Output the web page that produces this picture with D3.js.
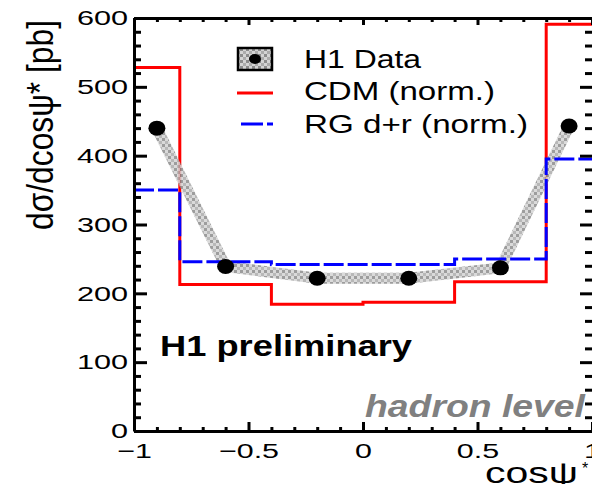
<!DOCTYPE html>
<html>
<head>
<meta charset="utf-8">
<script src="https://cdn.jsdelivr.net/npm/d3@7"></script>
<style>
body { margin: 0; background: #fff; }
svg { display: block; font-family: "Liberation Sans", Arial, sans-serif; }
</style>
</head>
<body>
<svg id="chart" width="592" height="484"></svg>
<script>
// histogram bin edges for the model curves
const binEdges = [-1, -0.8, -0.4, 0, 0.4, 0.8, 1];
const cdmValues = [528, 213, 184, 187, 217, 591];
const rgValues = [350, 246, 242, 242, 250, 395];

// H1 data points
const dataX = [-0.9, -0.6, -0.2, 0.2, 0.6, 0.9];
const dataY = [440, 239, 222, 222, 237, 443];

// ticks
const xMajor = [-1, -0.5, 0, 0.5, 1];
const xTickLabels = ['\u22121', '\u22120.5', '0', '0.5', '1'];
const xMinor = d3.range(-9, 10).map(i => i / 10).filter(v => Math.abs(v * 2 - Math.round(v * 2)) > 1e-6);
const yMajor = [0, 100, 200, 300, 400, 500, 600];
const yMinor = d3.range(20, 600, 20).filter(v => v % 100 !== 0);

const legendLabels = ['H1 Data', 'CDM (norm.)', 'RG d+r (norm.)'];

const svg = d3.select('#chart');
const x = d3.scaleLinear().domain([-1, 1]).range([134, 592]);
const y = d3.scaleLinear().domain([0, 600]).range([431, 18]);

// checkered grey fill for the data band
const pat = svg.append('defs').append('pattern')
    .attr('id', 'checker')
    .attr('patternUnits', 'userSpaceOnUse')
    .attr('width', 6)
    .attr('height', 6);
pat.append('rect').attr('width', 6).attr('height', 6).attr('fill', '#d4d4d4');
pat.append('rect').attr('width', 3).attr('height', 3).attr('fill', '#8c8c8c');
pat.append('rect').attr('x', 3).attr('y', 3).attr('width', 3).attr('height', 3).attr('fill', '#ababab');

// step histograms
const stepLine = d3.line()
    .x(d => x(d[0]))
    .y(d => y(d[1]))
    .curve(d3.curveStepAfter);

function stepPoints(vals) {
    const pts = vals.map((v, i) => [binEdges[i], v]);
    pts.push([binEdges[binEdges.length - 1], vals[vals.length - 1]]);
    return pts;
}

svg.append('path')
    .attr('d', stepLine(stepPoints(cdmValues)))
    .attr('fill', 'none')
    .attr('stroke', '#ff0000')
    .attr('stroke-width', 3);

// data band
const bandLine = d3.line()
    .x((d, i) => x(dataX[i]))
    .y(d => y(d))
    .curve(d3.curveLinear);

svg.append('path')
    .attr('d', bandLine(dataY))
    .attr('fill', 'none')
    .attr('stroke', 'url(#checker)')
    .attr('stroke-width', 11)
    .attr('stroke-linecap', 'square')
    .attr('stroke-linejoin', 'round')
    .attr('opacity', 0.85);

svg.append('path')
    .attr('d', stepLine(stepPoints(rgValues)))
    .attr('fill', 'none')
    .attr('stroke', '#0000ff')
    .attr('stroke-width', 3)
    .attr('stroke-dasharray', '20,4');

// data markers
svg.append('g')
    .selectAll('ellipse')
    .data(dataY)
    .join('ellipse')
    .attr('cx', (d, i) => x(dataX[i]))
    .attr('cy', d => y(d))
    .attr('rx', 8.5)
    .attr('ry', 7.5)
    .attr('fill', '#000');

// axes
function styleAxis(g, tickWidth) {
    g.select('.domain').attr('stroke-width', 3).attr('stroke', '#000');
    g.selectAll('.tick line').attr('stroke-width', tickWidth).attr('stroke', '#000');
}

const gBottom = svg.append('g').attr('transform', `translate(0,${y(0)})`);
gBottom.call(d3.axisBottom(x).tickValues(xMajor).tickFormat((d, i) => xTickLabels[i])
    .tickSize(-9).tickSizeOuter(0).tickPadding(12));
gBottom.append('g').call(d3.axisBottom(x).tickValues(xMinor).tickFormat('').tickSize(-4).tickSizeOuter(0))
    .select('.domain').remove();
styleAxis(gBottom, 3);
gBottom.selectAll('text')
    .attr('font-size', 21)
    .attr('fill', '#000')
    .attr('font-family', '"Liberation Sans", Arial, sans-serif')
    .attr('transform', 'scale(1.45,1)');

const gTop = svg.append('g').attr('transform', `translate(0,${y(600)})`);
gTop.call(d3.axisTop(x).tickValues(xMajor).tickFormat('').tickSize(-7).tickSizeOuter(0));
gTop.append('g').call(d3.axisTop(x).tickValues(xMinor).tickFormat('').tickSize(-4).tickSizeOuter(0))
    .select('.domain').remove();
styleAxis(gTop, 3);

const gLeft = svg.append('g').attr('transform', `translate(${x(-1)},0)`);
gLeft.call(d3.axisLeft(y).tickValues(yMajor).tickFormat(d3.format('d'))
    .tickSize(-13).tickSizeOuter(0).tickPadding(4));
gLeft.append('g').call(d3.axisLeft(y).tickValues(yMinor).tickFormat('').tickSize(-7).tickSizeOuter(0))
    .select('.domain').remove();
styleAxis(gLeft, 3);
gLeft.selectAll('text')
    .attr('font-size', 21)
    .attr('fill', '#000')
    .attr('font-family', '"Liberation Sans", Arial, sans-serif')
    .attr('transform', 'scale(1.46,1)');

const gRight = svg.append('g').attr('transform', `translate(${x(1)},0)`);
gRight.call(d3.axisRight(y).tickValues(yMajor).tickFormat('').tickSize(-12).tickSizeOuter(0));
gRight.append('g').call(d3.axisRight(y).tickValues(yMinor).tickFormat('').tickSize(-7).tickSizeOuter(0));
gRight.selectAll('.domain').remove();
styleAxis(gRight, 3);

// axis titles
svg.append('text')
    .attr('transform', 'translate(53,125) scale(1.2,1) rotate(-90)')
    .attr('text-anchor', 'middle')
    .attr('font-size', 30)
    .attr('textLength', 210)
    .attr('lengthAdjust', 'spacingAndGlyphs')
    .text('d\u03c3/dcos\u03c8* [pb]');

svg.append('text')
    .attr('x', 485)
    .attr('y', 483)
    .attr('font-size', 30)
    .attr('textLength', 93)
    .attr('lengthAdjust', 'spacingAndGlyphs')
    .text('cos\u03c8');
svg.append('text')
    .attr('x', 582)
    .attr('y', 474)
    .attr('font-size', 16)
    .text('*');

// legend
const legend = svg.append('g');
legend.append('rect')
    .attr('x', 238).attr('y', 48)
    .attr('width', 34).attr('height', 22)
    .attr('fill', 'url(#checker)')
    .attr('stroke', '#000')
    .attr('stroke-width', 2.5);
legend.append('ellipse')
    .attr('cx', 255).attr('cy', 59)
    .attr('rx', 6).attr('ry', 5)
    .attr('fill', '#000');
legend.append('line')
    .attr('x1', 237).attr('x2', 273)
    .attr('y1', 93).attr('y2', 93)
    .attr('stroke', '#ff0000').attr('stroke-width', 3);
legend.append('line')
    .attr('x1', 241).attr('x2', 273)
    .attr('y1', 124).attr('y2', 124)
    .attr('stroke', '#0000ff').attr('stroke-width', 3)
    .attr('stroke-dasharray', '22,4');

const legendBase = [68, 100, 133];
const legendLen = [117, 191, 224];
legend.selectAll('text.leg')
    .data(legendLabels)
    .join('text')
    .attr('class', 'leg')
    .attr('x', 304)
    .attr('y', (d, i) => legendBase[i])
    .attr('font-size', 25)
    .attr('textLength', (d, i) => legendLen[i])
    .attr('lengthAdjust', 'spacingAndGlyphs')
    .text(d => d);

// annotations
svg.append('text')
    .attr('x', 160)
    .attr('y', 356)
    .attr('font-size', 30)
    .attr('font-weight', 'bold')
    .attr('textLength', 252)
    .attr('lengthAdjust', 'spacingAndGlyphs')
    .text('H1 preliminary');

svg.append('text')
    .attr('x', 365)
    .attr('y', 417)
    .attr('font-size', 32)
    .attr('font-weight', 'bold')
    .attr('font-style', 'italic')
    .attr('fill', '#808080')
    .attr('textLength', 220)
    .attr('lengthAdjust', 'spacingAndGlyphs')
    .text('hadron level');
</script>
</body>
</html>
